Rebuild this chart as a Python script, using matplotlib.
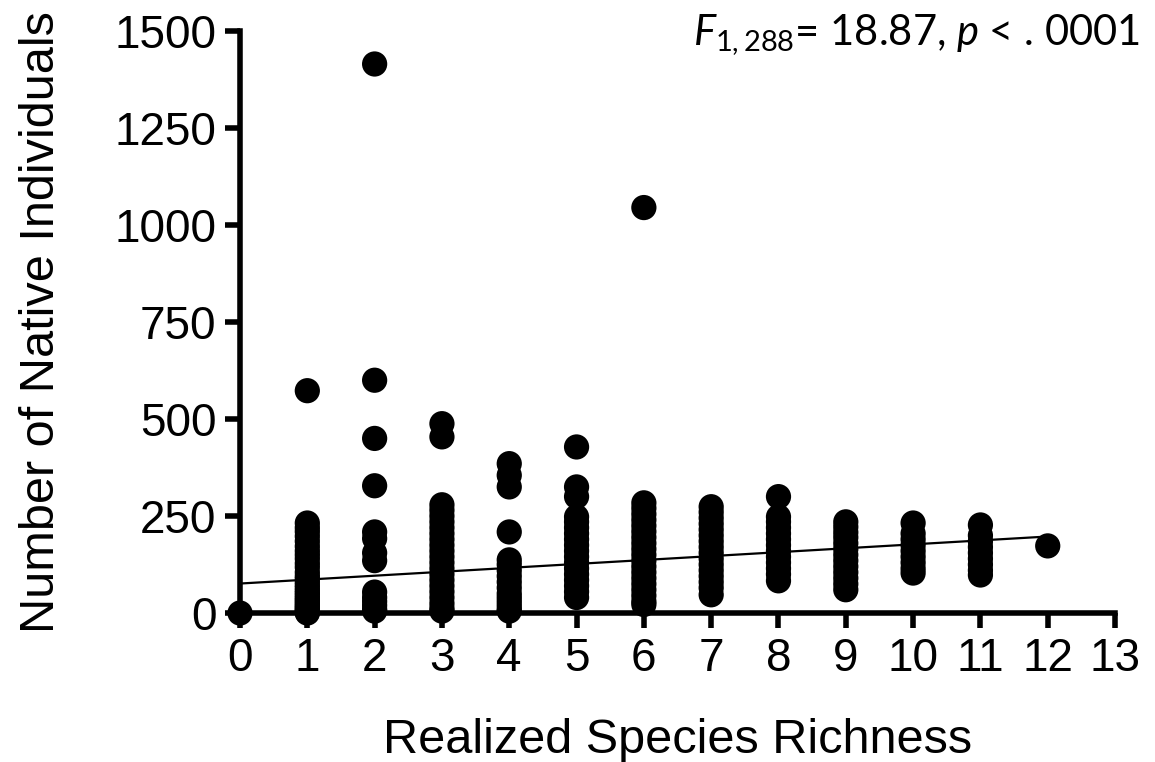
import numpy as np
import matplotlib.pyplot as plt

plt.rcParams['font.family'] = ['Liberation Sans', 'DejaVu Sans']
plt.rcParams['mathtext.fontset'] = 'custom'
plt.rcParams['mathtext.rm'] = 'Lato'
plt.rcParams['mathtext.it'] = 'Lato:italic'

# native individuals per plot, grouped by realized species richness
richness = [0, 1, 2, 3, 4, 5, 6, 7, 8, 9, 10, 11, 12]
natives = [
    [0],
    [573, 232, 220, 210, 198, 185, 172, 160, 150, 140, 128, 118, 105, 95, 88, 80,
     72, 65, 58, 52, 46, 40, 35, 30, 25, 20, 16, 12, 8, 5, 2, 0],
    [1415, 600, 450, 328, 209, 192, 155, 135, 54, 40, 30, 20, 10, 5],
    [488, 454, 279, 265, 250, 235, 220, 205, 190, 175, 160, 145, 130, 115, 100,
     85, 70, 55, 40, 25, 12, 5],
    [385, 355, 325, 209, 137, 125, 110, 95, 80, 65, 50, 40, 30, 20, 10, 5],
    [428, 325, 300, 248, 235, 220, 205, 190, 175, 160, 145, 130, 115, 100, 85,
     70, 55, 40],
    [1045, 284, 270, 255, 240, 225, 210, 195, 180, 165, 150, 135, 120, 105, 90,
     75, 60, 45, 30, 22],
    [274, 260, 245, 230, 215, 200, 185, 170, 155, 140, 125, 110, 95, 80, 65, 47],
    [300, 248, 235, 220, 205, 190, 175, 160, 145, 130, 115, 100, 83],
    [235, 222, 208, 195, 180, 165, 150, 135, 120, 105, 90, 75, 60],
    [232, 205, 190, 175, 160, 145, 130, 115, 103],
    [227, 200, 185, 170, 155, 140, 125, 110, 98],
    [173],
]

# fitted line
intercept = 76
slope = 10.1

x = np.concatenate([[r] * len(v) for r, v in zip(richness, natives)])
y = np.concatenate(natives)

fig = plt.figure(figsize=(11.55, 7.62), dpi=100)
ax = fig.add_axes([0.2078, 0.1955, 0.9654 - 0.2078, 0.9593 - 0.1955])

ax.scatter(x, y, s=330, c='black', edgecolors='none', clip_on=False, zorder=3)
xl = np.array([0, 12])
ax.plot(xl, intercept + slope * xl, color='black', lw=1.6, zorder=2)

ax.set_xlim(0, 13)
ax.set_ylim(0, 1500)
ax.set_xticks(range(0, 14))
ax.set_yticks(range(0, 1501, 250))

for s in ['top', 'right']:
    ax.spines[s].set_visible(False)
for s in ['left', 'bottom']:
    ax.spines[s].set_linewidth(4)
ax.tick_params(width=4, length=11, labelsize=33, pad=6)

ax.set_xlabel('Realized Species Richness', fontsize=35, labelpad=27)
ax.set_ylabel('Number of Native Individuals', fontsize=35, labelpad=36)

fig.text(0.987, 0.941, r'$\mathit{F}_{\mathrm{1,288}}$= 18.87, $\mathit{p}$ < . 0001',
         fontsize=30, family='Lato', ha='right', va='baseline')

fig.savefig('out.png', dpi=100)
